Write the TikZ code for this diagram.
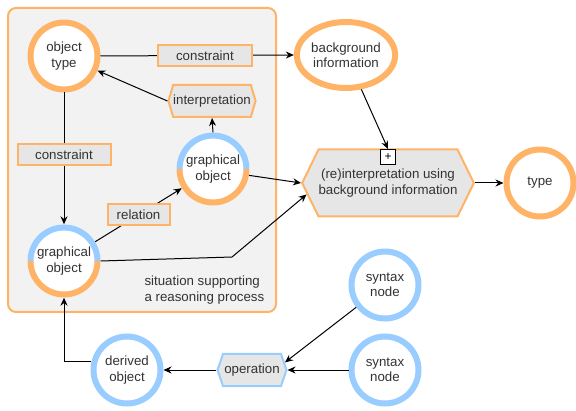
\documentclass[tikz,border=0pt]{standalone}
\usepackage{fontspec}
\setmainfont{Liberation Sans}
\usetikzlibrary{positioning,arrows.meta,shapes.geometric,shapes.symbols}
\definecolor{orangeC}{HTML}{FFB366}
\definecolor{blueC}{HTML}{99CCFF}
\definecolor{fillC}{HTML}{E6E6E6}
\definecolor{areaC}{HTML}{F2F2F2}
\definecolor{textC}{HTML}{333333}
\begin{document}
\begin{tikzpicture}[
  x=1pt, y=1pt,
  font=\fontsize{13.3}{15.5}\selectfont, text=textC, >={Stealth[length=8pt,width=7pt]},
  ocirc/.style={circle,draw=orangeC,line width=6pt,fill=white,minimum size=67pt,inner sep=0pt,align=center},
  bcirc/.style={ocirc,draw=blueC},
  twotone/.style={circle,fill=white,minimum size=73pt,inner sep=0pt,align=center},
  lbl/.style={draw=orangeC,line width=2pt,fill=fillC,inner sep=0pt,minimum height=21pt},
  hexa/.style={signal,signal to=west and east,draw=orangeC,line width=2pt,fill=fillC,inner sep=0pt,align=center},
  flow/.style={->,line width=1pt,draw=black},
  arcb/.style={draw=blueC,line width=6pt},
  arco/.style={draw=orangeC,line width=6pt},
]
\useasboundingbox (0,0) rectangle (576,410);
% reasoning area
\node[draw=orangeC,line width=2pt,fill=areaC,rounded corners=8pt,minimum width=268pt,minimum height=304pt] (area) at (142,250) {};
\node[anchor=west,align=left] (sit) at (141,120) {situation supporting\\a reasoning process};
% nodes
\node[ocirc] (objtype) at (64,354) {object\\type};
\node[ellipse,draw=orangeC,line width=6pt,fill=white,minimum width=96pt,minimum height=66pt,inner sep=0pt,align=center] (bginfo) at (346,355) {background\\information};
\node[hexa,minimum width=87pt,minimum height=32pt,signal pointer angle=147] (interp) at (212,309) {interpretation};
\node[twotone] (go1) at (213,241) {graphical\\object};
\draw[arcb] ([shift={(180:33.5)}]go1.center) arc[start angle=180,end angle=0,radius=33.5];
\draw[arco] ([shift={(0:33.5)}]go1.center) arc[start angle=0,end angle=-180,radius=33.5];
\node[twotone] (go2) at (64,149) {graphical\\object};
\draw[arcb] ([shift={(180:33.5)}]go2.center) arc[start angle=180,end angle=0,radius=33.5];
\draw[arco] ([shift={(0:33.5)}]go2.center) arc[start angle=0,end angle=-180,radius=33.5];
\node[hexa,minimum width=170pt,minimum height=67pt,signal pointer angle=128] (reint) at (388,227) {(re)interpretation using\\background information};
\node[draw=black,line width=1pt,fill=white,minimum size=15pt,inner sep=0pt,text=black,font=\fontsize{12}{12}\selectfont,below=0.5pt of reint.north] (plus) {+};
\node[ocirc] (type) at (540,227) {type};
\node[bcirc] (syn1) at (385,125) {syntax\\node};
\node[bcirc] (syn2) at (385,40) {syntax\\node};
\node[hexa,draw=blueC,minimum width=69pt,minimum height=32pt,signal pointer angle=142] (op) at (252,40) {operation};
\node[bcirc] (derived) at (127,40) {derived\\object};
% connectors
\draw[flow] (objtype.east) -- node[lbl,minimum width=94pt,pos=0.54] (con1) {constraint} (bginfo.west);
\draw[flow] (objtype.south) -- node[lbl,minimum width=93pt,pos=0.47] (con2) {constraint} (go2.north);
\draw[flow] (interp.west) -- (objtype);
\draw[flow] (go1.north) -- (interp.south);
\draw[flow] (go2) -- node[lbl,minimum width=62pt] (rel) {relation} (go1);
\coordinate (bend) at (232,153);
\draw[flow] (go2.east) -- (bend) -- (reint.188);
\draw[flow] (go1.-10) -- (reint.west);
\draw[flow] (bginfo) -- (plus.north);
\draw[flow] (reint.east) -- (type.west);
\draw[flow] (syn1) -- (op.13);
\draw[flow] (syn2.west) -- (op.east);
\draw[flow] (op.west) -- (derived.east);
\draw[flow] (derived.167) -| (go2.south);
\end{tikzpicture}
\end{document}
